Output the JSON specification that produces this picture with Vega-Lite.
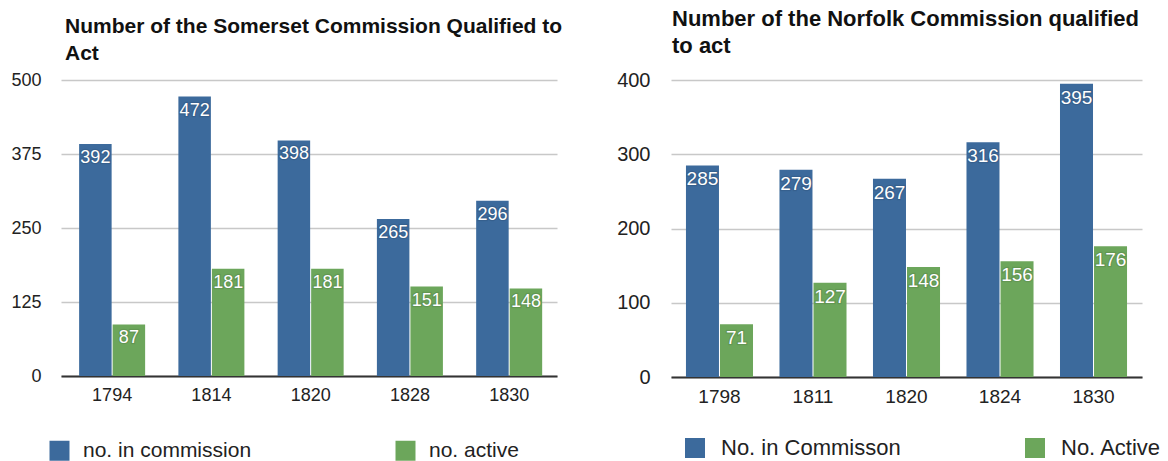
{
  "$schema": "https://vega.github.io/schema/vega-lite/v6.json",
  "padding": {"left": 10, "top": 8, "right": 5, "bottom": 0},
  "autosize": {"type": "pad"},
  "spacing": 53,
  "config": {
    "font": "Liberation Sans",
    "view": {"stroke": null},
    "axisX": {"domain": true, "domainColor": "#333333", "domainWidth": 2, "ticks": false, "labelFontSize": 18, "labelPadding": 10, "labelColor": "#222222", "labelAngle": 0, "grid": false},
    "axisY": {"domain": false, "ticks": false, "grid": true, "gridColor": "#c8c8c8", "gridWidth": 1.5, "labelFontSize": 18, "labelPadding": 20, "labelColor": "#222222"},
    "title": {"fontWeight": "bold", "color": "#111111", "lineHeight": 27, "anchor": "start", "frame": "group"},
    "legend": {"orient": "none", "direction": "horizontal", "columns": 2, "symbolType": "square", "symbolSize": 400, "symbolStrokeWidth": 0, "labelColor": "#222222", "labelLimit": 400}
  },
  "datasets": {
    "somerset": [
      {"year": "1794", "series": "no. in commission", "value": 392},
      {"year": "1794", "series": "no. active", "value": 87},
      {"year": "1814", "series": "no. in commission", "value": 472},
      {"year": "1814", "series": "no. active", "value": 181},
      {"year": "1820", "series": "no. in commission", "value": 398},
      {"year": "1820", "series": "no. active", "value": 181},
      {"year": "1828", "series": "no. in commission", "value": 265},
      {"year": "1828", "series": "no. active", "value": 151},
      {"year": "1830", "series": "no. in commission", "value": 296},
      {"year": "1830", "series": "no. active", "value": 148}
    ],
    "norfolk": [
      {"year": "1798", "series": "No. in Commisson", "value": 285},
      {"year": "1798", "series": "No. Active", "value": 71},
      {"year": "1811", "series": "No. in Commisson", "value": 279},
      {"year": "1811", "series": "No. Active", "value": 127},
      {"year": "1820", "series": "No. in Commisson", "value": 267},
      {"year": "1820", "series": "No. Active", "value": 148},
      {"year": "1824", "series": "No. in Commisson", "value": 316},
      {"year": "1824", "series": "No. Active", "value": 156},
      {"year": "1830", "series": "No. in Commisson", "value": 395},
      {"year": "1830", "series": "No. Active", "value": 176}
    ]
  },
  "hconcat": [
    {
      "width": 496,
      "height": 296,
      "data": {"name": "somerset"},
      "title": {"text": ["Number of the Somerset Commission Qualified to", "Act"], "dx": 4, "fontSize": 21, "offset": 7},
      "encoding": {
        "x": {"field": "year", "type": "nominal", "title": null, "sort": null, "scale": {"paddingInner": 0.335, "paddingOuter": 0.166, "align": 0.55}},
        "xOffset": {"field": "series", "type": "nominal", "sort": null, "scale": {"domain": ["no. in commission", "no. active"], "paddingInner": 0.03}},
        "y": {"field": "value", "type": "quantitative", "title": null, "scale": {"domain": [0, 500]}, "axis": {"values": [0, 125, 250, 375, 500]}}
      },
      "layer": [
        {
          "mark": {"type": "bar"},
          "encoding": {
            "color": {"field": "series", "type": "nominal", "sort": null, "scale": {"domain": ["no. in commission", "no. active"], "range": ["#3c6a9c", "#6ca65b"]}, "legend": {"title": null, "legendX": -12, "legendY": 360, "columnPadding": 143, "labelFontSize": 21, "labelOffset": 13}}
          }
        },
        {
          "mark": {"type": "text", "baseline": "top", "dy": 5, "fontSize": 18, "fill": "#000000", "opacity": 0.25, "stroke": "#000000", "strokeWidth": 2.5, "strokeOpacity": 0.35},
          "encoding": {"text": {"field": "value", "type": "quantitative"}}
        },
        {
          "mark": {"type": "text", "baseline": "top", "dy": 5, "fontSize": 18, "fill": "#ffffff"},
          "encoding": {"text": {"field": "value", "type": "quantitative"}}
        }
      ]
    },
    {
      "width": 471,
      "height": 297,
      "data": {"name": "norfolk"},
      "title": {"text": ["Number of the Norfolk Commission qualified", "to act"], "dx": 1, "fontSize": 22, "offset": 12},
      "encoding": {
        "x": {"field": "year", "type": "nominal", "title": null, "sort": null, "scale": {"paddingInner": 0.283, "paddingOuter": 0.16, "align": 0.5}, "axis": {"labelFontSize": 19}},
        "xOffset": {"field": "series", "type": "nominal", "sort": null, "scale": {"domain": ["No. in Commisson", "No. Active"], "paddingInner": 0.03}},
        "y": {"field": "value", "type": "quantitative", "title": null, "scale": {"domain": [0, 400]}, "axis": {"values": [0, 100, 200, 300, 400], "labelFontSize": 20, "labelPadding": 21}}
      },
      "layer": [
        {
          "mark": {"type": "bar"},
          "encoding": {
            "color": {"field": "series", "type": "nominal", "sort": null, "scale": {"domain": ["No. in Commisson", "No. Active"], "range": ["#3c6a9c", "#6ca65b"]}, "legend": {"title": null, "legendX": 13, "legendY": 357, "columnPadding": 123, "labelFontSize": 22, "labelOffset": 15}}
          }
        },
        {
          "mark": {"type": "text", "baseline": "top", "dy": 5, "fontSize": 19, "fill": "#000000", "opacity": 0.25, "stroke": "#000000", "strokeWidth": 2.5, "strokeOpacity": 0.35},
          "encoding": {"text": {"field": "value", "type": "quantitative"}}
        },
        {
          "mark": {"type": "text", "baseline": "top", "dy": 5, "fontSize": 19, "fill": "#ffffff"},
          "encoding": {"text": {"field": "value", "type": "quantitative"}}
        }
      ]
    }
  ],
  "resolve": {"scale": {"x": "independent", "y": "independent", "color": "independent", "xOffset": "independent"}, "legend": {"color": "independent"}}
}
